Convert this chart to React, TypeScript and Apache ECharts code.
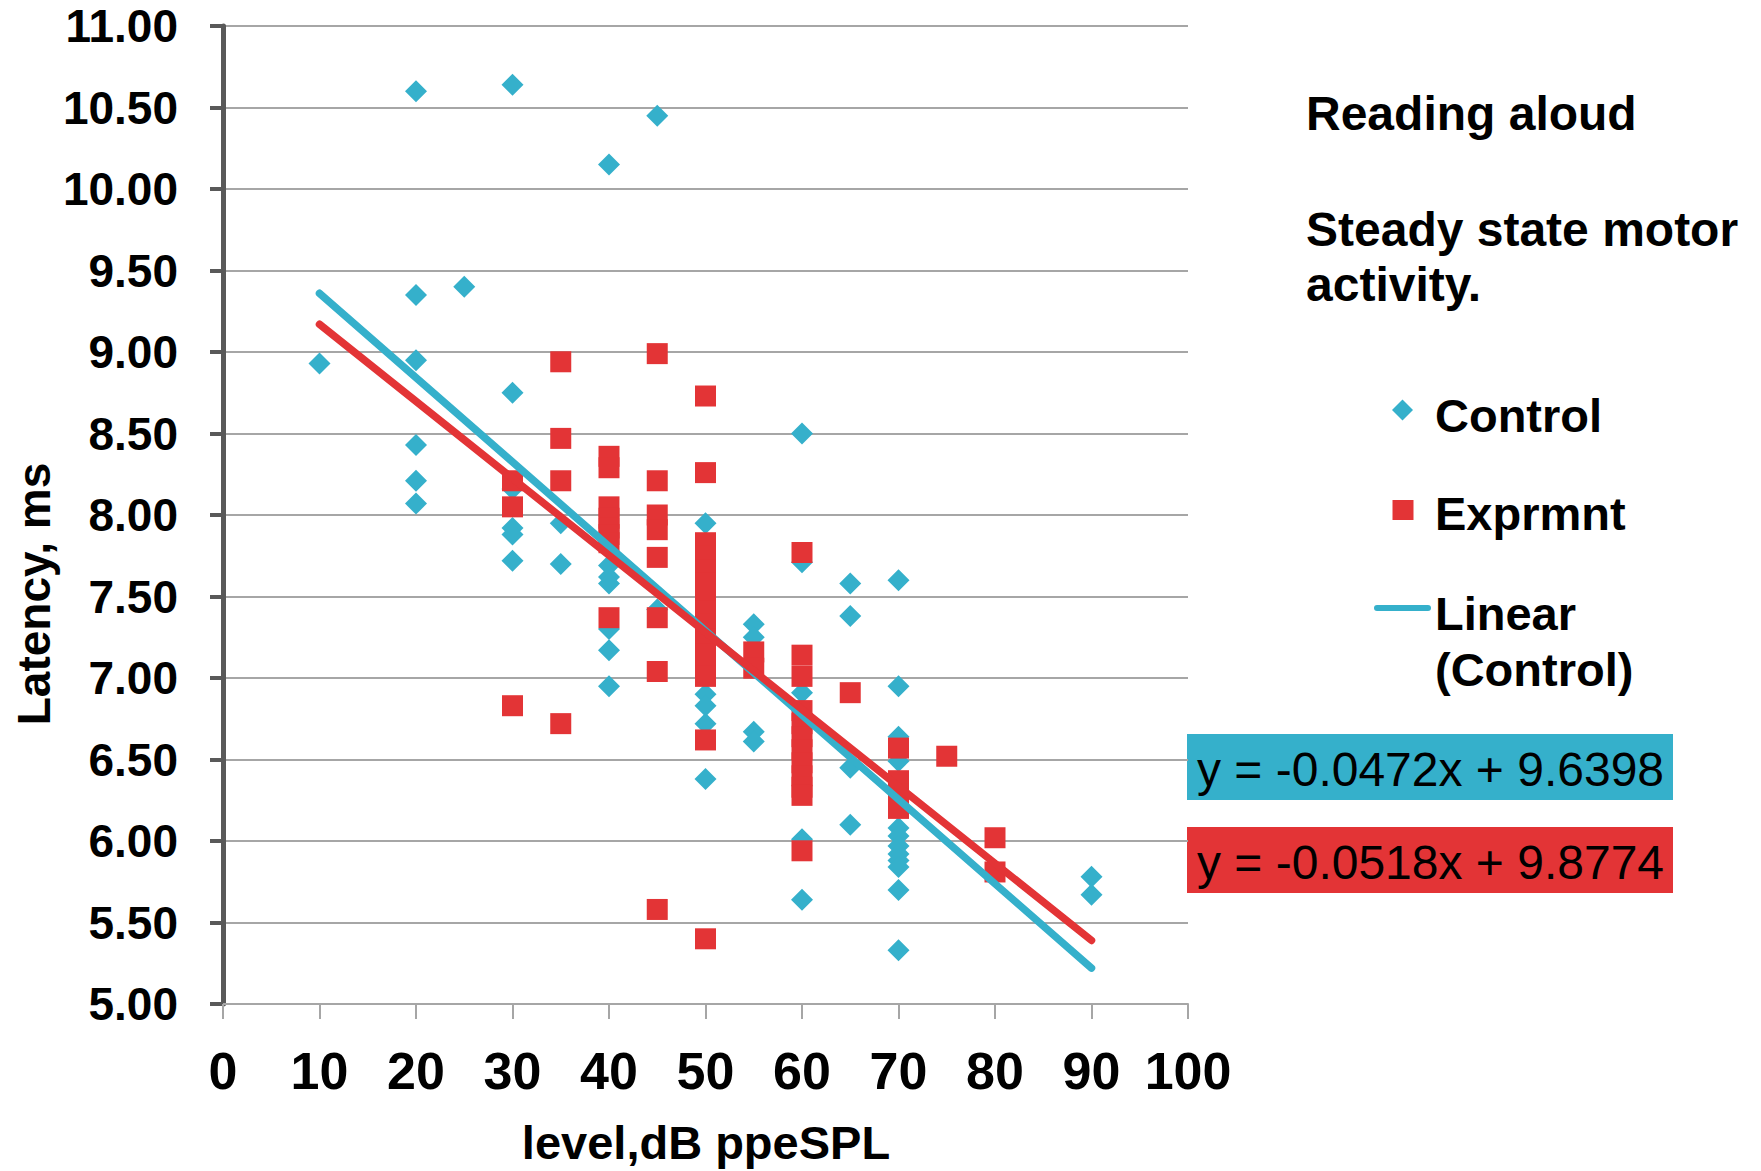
import React, { useEffect, useRef } from "react";
import * as echarts from "echarts";

const FONT = '"Liberation Sans", Arial, Helvetica, sans-serif';
const BLUE = "#35B0CB";
const RED = "#E33436";

const xTicks = [0, 10, 20, 30, 40, 50, 60, 70, 80, 90, 100];
const yTickMin = 5;
const yTickMax = 11;

const controlPoints: number[][] = [
  [10, 8.93],
  [20, 10.6], [20, 9.35], [20, 8.95], [20, 8.43], [20, 8.21], [20, 8.07],
  [25, 9.4],
  [30, 10.64], [30, 8.75], [30, 8.16], [30, 7.92], [30, 7.88], [30, 7.72],
  [35, 7.95], [35, 7.7],
  [40, 10.15], [40, 7.69], [40, 7.62], [40, 7.58], [40, 7.3], [40, 7.17], [40, 6.95],
  [45, 10.45], [45, 7.42],
  [50, 7.95], [50, 6.9], [50, 6.83], [50, 6.72], [50, 6.38],
  [55, 7.33], [55, 7.25], [55, 6.67], [55, 6.61],
  [60, 8.5], [60, 7.71], [60, 6.91], [60, 6.01], [60, 5.64],
  [65, 7.58], [65, 7.38], [65, 6.45], [65, 6.1],
  [70, 7.6], [70, 6.95], [70, 6.64], [70, 6.49], [70, 6.08], [70, 6.03], [70, 5.97],
  [70, 5.92], [70, 5.88], [70, 5.84], [70, 5.7], [70, 5.33],
  [90, 5.78], [90, 5.67],
];

const exprmntPoints: number[][] = [
  [30, 8.21], [30, 8.05], [30, 6.83],
  [35, 8.94], [35, 8.47], [35, 8.21], [35, 6.72],
  [40, 8.36], [40, 8.29], [40, 8.05], [40, 7.98], [40, 7.92], [40, 7.88], [40, 7.83], [40, 7.37],
  [45, 8.99], [45, 8.21], [45, 8.0], [45, 7.91], [45, 7.74], [45, 7.37], [45, 7.04], [45, 5.58],
  [50, 8.73], [50, 8.26], [50, 7.83], [50, 7.75], [50, 7.66], [50, 7.58], [50, 7.5], [50, 7.41],
  [50, 7.33], [50, 7.24], [50, 7.15], [50, 7.08], [50, 7.01], [50, 6.62], [50, 5.4],
  [55, 7.16], [55, 7.06],
  [60, 7.77], [60, 7.14], [60, 7.01], [60, 6.8], [60, 6.72], [60, 6.64], [60, 6.56], [60, 6.48],
  [60, 6.4], [60, 6.33], [60, 6.28], [60, 5.94],
  [65, 6.91],
  [70, 6.57], [70, 6.37], [70, 6.29], [70, 6.2],
  [75, 6.52],
  [80, 6.02], [80, 5.81],
];

// trend lines as drawn in the picture (endpoints)
const blueTrend: number[][] = [[10, 9.36], [90, 5.22]];
const redTrend: number[][] = [[10, 9.17], [90, 5.39]];

const titleLines = ["Reading aloud", "Steady state motor", "activity."];
const legendLabels = ["Control", "Exprmnt", "Linear", "(Control)"];
const equations = ["y = -0.0472x + 9.6398", "y = -0.0518x + 9.8774"];
const xAxisTitle = "level,dB ppeSPL";
const yAxisTitle = "Latency, ms";

export default function App() {
  const ref = useRef<HTMLDivElement>(null);
  useEffect(() => {
    if (!ref.current) return;
    const chart = echarts.init(ref.current, undefined, { renderer: "svg" });
    const boldText = (text: string, x: number, y: number, extra: any = {}) => ({
      type: "text",
      x,
      y,
      ...extra,
      style: {
        text,
        fontFamily: FONT,
        fontWeight: "bold",
        fontSize: 47,
        fill: "#000",
        align: "left",
        verticalAlign: "middle",
        ...(extra.style || {}),
      },
    });
    const option: any = {
      animation: false,
      backgroundColor: "#ffffff",
      grid: { left: 223, right: 573, top: 26, bottom: 167, containLabel: false },
      xAxis: {
        type: "value",
        min: xTicks[0],
        max: xTicks[xTicks.length - 1],
        interval: 10,
        axisLine: { show: true, onZero: false, lineStyle: { color: "#A6A6A6", width: 2 } },
        axisTick: { show: true, length: 15, lineStyle: { color: "#A6A6A6", width: 2 } },
        axisLabel: {
          fontSize: 52,
          fontWeight: "bold",
          fontFamily: FONT,
          color: "#000",
          margin: 41,
        },
        splitLine: { show: false },
      },
      yAxis: {
        type: "value",
        min: yTickMin,
        max: yTickMax,
        interval: 0.5,
        axisLine: { show: true, onZero: false, lineStyle: { color: "#595959", width: 5 } },
        axisTick: { show: true, length: 13, lineStyle: { color: "#595959", width: 4 } },
        axisLabel: {
          fontSize: 46,
          fontWeight: "bold",
          fontFamily: FONT,
          color: "#000",
          margin: 45,
          formatter: (v: number) => v.toFixed(2),
        },
        splitLine: { show: true, lineStyle: { color: "#A6A6A6", width: 2 } },
      },
      series: [
        {
          name: "Control",
          type: "scatter",
          symbol: "diamond",
          symbolSize: 22,
          itemStyle: { color: BLUE, opacity: 1 },
          data: controlPoints,
        },
        {
          name: "Exprmnt",
          type: "scatter",
          symbol: "rect",
          symbolSize: 21,
          itemStyle: { color: RED, opacity: 1 },
          data: exprmntPoints,
        },
        {
          name: "Linear (Control)",
          type: "line",
          symbol: "none",
          lineStyle: { color: BLUE, width: 7.5, cap: "round" },
          data: blueTrend,
        },
        {
          name: "Linear (Exprmnt)",
          type: "line",
          symbol: "none",
          lineStyle: { color: RED, width: 7.5, cap: "round" },
          data: redTrend,
        },
      ],
      graphic: [
        boldText(titleLines[0], 1306, 113, { style: { fontSize: 48 } }),
        boldText(titleLines[1], 1306, 229, { style: { fontSize: 48 } }),
        boldText(titleLines[2], 1306, 284, { style: { fontSize: 48 } }),
        {
          type: "polygon",
          shape: { points: [[1402.5, 399.5], [1413, 410], [1402.5, 420.5], [1392, 410]] },
          style: { fill: BLUE },
        },
        boldText(legendLabels[0], 1435, 415),
        { type: "rect", shape: { x: 1392.5, y: 500, width: 21, height: 20 }, style: { fill: RED } },
        boldText(legendLabels[1], 1435, 513),
        {
          type: "line",
          shape: { x1: 1377, y1: 608, x2: 1428, y2: 608 },
          style: { stroke: BLUE, lineWidth: 6, lineCap: "round" },
        },
        boldText(legendLabels[2], 1435, 613),
        boldText(legendLabels[3], 1435, 669),
        { type: "rect", shape: { x: 1187, y: 734, width: 486, height: 66 }, style: { fill: BLUE } },
        {
          type: "text",
          x: 1197,
          y: 769,
          style: {
            text: equations[0],
            fontFamily: FONT,
            fontSize: 48,
            fill: "#000",
            align: "left",
            verticalAlign: "middle",
          },
        },
        { type: "rect", shape: { x: 1187, y: 827, width: 486, height: 66 }, style: { fill: RED } },
        {
          type: "text",
          x: 1197,
          y: 862,
          style: {
            text: equations[1],
            fontFamily: FONT,
            fontSize: 48,
            fill: "#000",
            align: "left",
            verticalAlign: "middle",
          },
        },
        boldText(xAxisTitle, 706, 1142, { style: { align: "center" } }),
        boldText(yAxisTitle, 34, 594, { rotation: Math.PI / 2, style: { align: "center", fontSize: 46 } }),
      ],
    };
    chart.setOption(option);
    return () => chart.dispose();
  }, []);
  return (
    <div
      ref={ref}
      style={{ position: "absolute", left: 0, top: 0, width: 1761, height: 1171, background: "#fff" }}
    />
  );
}
